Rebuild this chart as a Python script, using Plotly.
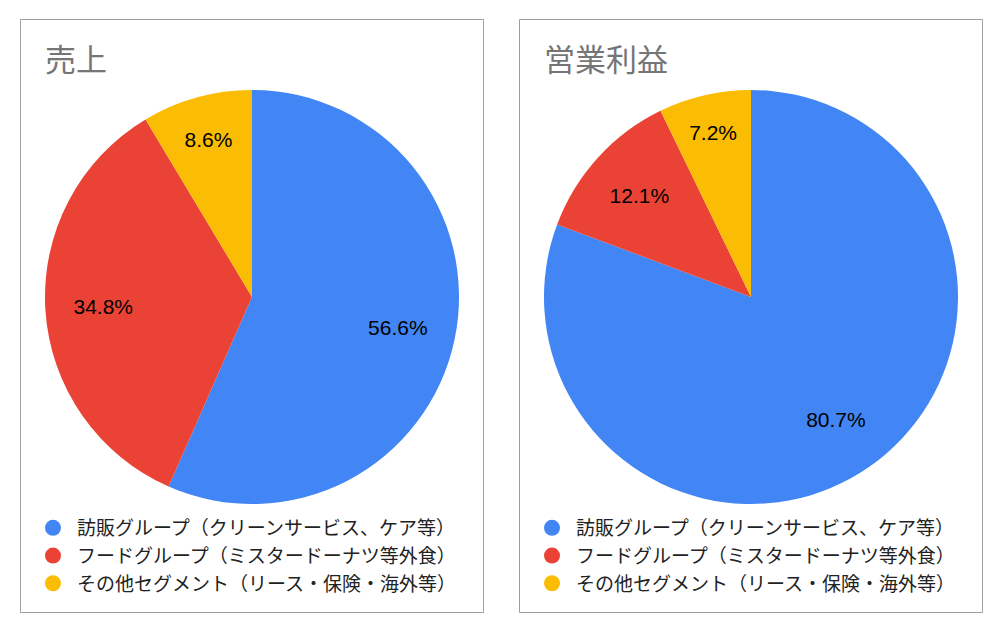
import plotly.graph_objects as go

W, H = 1004, 630

segments = ["訪販グループ（クリーンサービス、ケア等）",
            "フードグループ（ミスタードーナツ等外食）",
            "その他セグメント（リース・保険・海外等）"]
colors = ["#4285F4", "#EA4335", "#FBBC04"]

sales = [56.6, 34.8, 8.6]
profit = [80.7, 12.1, 7.2]

titles = ["売上", "営業利益"]

jp = "Noto Sans CJK JP"


def px(x):
    return x / W


def py(y):
    return 1 - y / H


fig = go.Figure()

# 円グラフ本体 + ラベル用の透明ドーナツ（ラベルを半径0.72付近に置くため）
pies = [(sales, 45, 459, titles[0]), (profit, 544, 958, titles[1])]
for vals, x0, x1, name in pies:
    dom = dict(x=[px(x0), px(x1)], y=[py(504), py(90)])
    fig.add_trace(go.Pie(
        labels=segments, values=vals, name=name,
        sort=False, direction="clockwise", rotation=0,
        marker=dict(colors=colors, line=dict(width=0)),
        textinfo="none", domain=dom,
        showlegend=False, hoverinfo="label+percent",
    ))
    fig.add_trace(go.Pie(
        labels=segments, values=vals, name=name,
        sort=False, direction="clockwise", rotation=0, hole=0.44,
        marker=dict(colors=["rgba(0,0,0,0)"] * 3, line=dict(width=0)),
        texttemplate="%{value:.1f}%", textposition="inside",
        insidetextorientation="horizontal",
        textfont=dict(family="Liberation Sans", size=21, color="#000000"),
        domain=dom, showlegend=False, hoverinfo="skip",
    ))

# 凡例用（丸いマーカー）
for leg in ["legend", "legend2"]:
    for seg, c in zip(segments, colors):
        fig.add_trace(go.Scatter(
            x=[None], y=[None], mode="markers", name=seg,
            marker=dict(color=c, size=18, symbol="circle"),
            legend=leg, showlegend=True,
        ))

legend_style = dict(
    font=dict(family=jp, size=19, color="#222222"),
    bgcolor="rgba(0,0,0,0)", borderwidth=0,
    xanchor="left", yanchor="top", yref="paper",
    traceorder="normal", itemwidth=38, itemsizing="trace", itemclick=False,
)

fig.update_layout(
    width=W, height=H,
    margin=dict(l=0, r=0, t=0, b=0),
    paper_bgcolor="white", plot_bgcolor="white",
    xaxis=dict(visible=False), yaxis=dict(visible=False),
    legend=dict(x=px(29), y=py(509), **legend_style),
    legend2=dict(x=px(528), y=py(509), **legend_style),
    shapes=[
        dict(type="rect", xref="paper", yref="paper",
             x0=px(20.5), x1=px(483.5), y0=py(612.5), y1=py(19.5),
             line=dict(color="#9E9E9E", width=1), fillcolor="rgba(0,0,0,0)"),
        dict(type="rect", xref="paper", yref="paper",
             x0=px(519.5), x1=px(982.5), y0=py(612.5), y1=py(19.5),
             line=dict(color="#9E9E9E", width=1), fillcolor="rgba(0,0,0,0)"),
    ],
    annotations=[
        dict(text=titles[0], x=px(43), y=py(57), xref="paper", yref="paper",
             xanchor="left", yanchor="middle", showarrow=False,
             font=dict(family=jp, size=31, color="#757575")),
        dict(text=titles[1], x=px(542), y=py(57), xref="paper", yref="paper",
             xanchor="left", yanchor="middle", showarrow=False,
             font=dict(family=jp, size=31, color="#757575")),
    ],
)

# ページ余白を消す
fig.write_html("out.html", config={"displayModeBar": False},
               post_script="document.body.style.margin='0px';")
